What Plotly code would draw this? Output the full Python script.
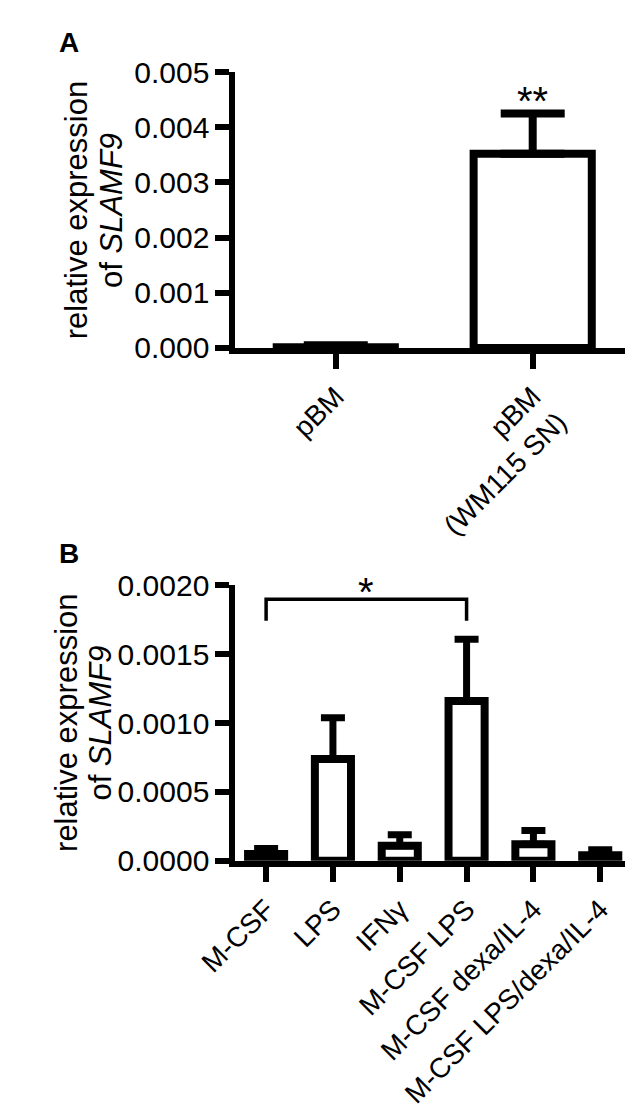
import plotly.graph_objects as go

# Panel A data
cats_a = ["pBM", "pBM<br>(WM115 SN)"]
mean_a = [0.00001, 0.00352]
err_a = [0.00004, 0.00073]

# Panel B data
cats_b = ["M-CSF", "LPS", "IFNγ", "M-CSF LPS", "M-CSF dexa/IL-4", "M-CSF LPS/dexa/IL-4"]
mean_b = [0.00005, 0.00074, 0.00011, 0.00116, 0.00012, 0.00004]
err_b = [0.00004, 0.00030, 0.00008, 0.00045, 0.00010, 0.00004]

title_lines = ["relative expression", "of <i>SLAMF9</i>"]
FONT = "Liberation Sans, Arial, sans-serif"
W, H = 633, 1120

fig = go.Figure()
fig.add_trace(go.Bar(
    x=cats_a, y=mean_a, width=0.6, xaxis="x", yaxis="y",
    marker=dict(color="white", line=dict(color="black", width=8)),
    error_y=dict(type="data", array=err_a, arrayminus=[0] * len(err_a), symmetric=False,
                 color="black", thickness=8, width=32),
    showlegend=False))
fig.add_trace(go.Bar(
    x=cats_b, y=mean_b, width=0.54, xaxis="x2", yaxis="y2",
    marker=dict(color="white", line=dict(color="black", width=8)),
    error_y=dict(type="data", array=err_b, arrayminus=[0] * len(err_b), symmetric=False,
                 color="black", thickness=7, width=12),
    showlegend=False))

line_common = dict(showline=True, linecolor="black", linewidth=6, ticks="outside",
                   tickcolor="black", tickwidth=6, showgrid=False, zeroline=False)
xfont = dict(family=FONT, size=28, color="black")
yfont = dict(family=FONT, size=30, color="black")

fig.update_layout(
    width=W, height=H, margin=dict(l=0, r=0, t=0, b=0),
    plot_bgcolor="white", paper_bgcolor="white",
    font=dict(family=FONT, color="black"),
    xaxis=dict(domain=[200 / W, 1], anchor="y", range=[-0.51, 1.55], ticklen=15,
               tickangle=-45, tickfont=xfont, **line_common),
    yaxis=dict(domain=[1 - 333 / H, 1 - 48.5 / H], anchor="x", range=[0, 0.005],
               dtick=0.001, tickformat=".3f", ticklen=14, tickfont=yfont, **line_common),
    xaxis2=dict(domain=[200 / W, 1], anchor="y2", range=[-0.46, 5.61], ticklen=15,
                tickangle=-45, tickfont=xfont, **line_common),
    yaxis2=dict(domain=[1 - 862 / H, 1 - 578 / H], anchor="x2", range=[0, 0.002],
                dtick=0.0005, tickformat=".4f", ticklen=14, tickfont=yfont, **line_common),
)

# y-axis titles (two lines each, placed individually)
for (x1, x2, yc) in [(30, 67, 191), (19, 56, 720)]:
    for xl, txt in zip((x1, x2), title_lines):
        fig.add_annotation(x=xl / W, y=1 - yc / H, xref="paper", yref="paper", text=txt,
                           textangle=-90, showarrow=False, xanchor="center", yanchor="middle",
                           font=dict(family=FONT, size=31, color="black"))

fig.add_annotation(x=1, y=0.00448, xref="x", yref="y", text="**", showarrow=False,
                   font=dict(family=FONT, size=40, color="black"), yanchor="middle")
fig.add_annotation(x=1.5, y=0.00195, xref="x2", yref="y2", text="*", showarrow=False,
                   font=dict(family=FONT, size=40, color="black"), yanchor="middle")
fig.add_shape(type="path", xref="x2", yref="y2",
              path="M 0,0.001744 L 0,0.0019 L 3,0.0019 L 3,0.001744",
              line=dict(color="black", width=3.5))

fig.add_annotation(x=22 / W, y=1 - 18 / H, xref="paper", yref="paper", text="<b>A</b>",
                   showarrow=False, font=dict(family=FONT, size=28, color="black"),
                   xanchor="center", yanchor="middle")
fig.add_annotation(x=22 / W, y=1 - 545 / H, xref="paper", yref="paper", text="<b>B</b>",
                   showarrow=False, font=dict(family=FONT, size=28, color="black"),
                   xanchor="center", yanchor="middle")

fig.write_html("out.html")
